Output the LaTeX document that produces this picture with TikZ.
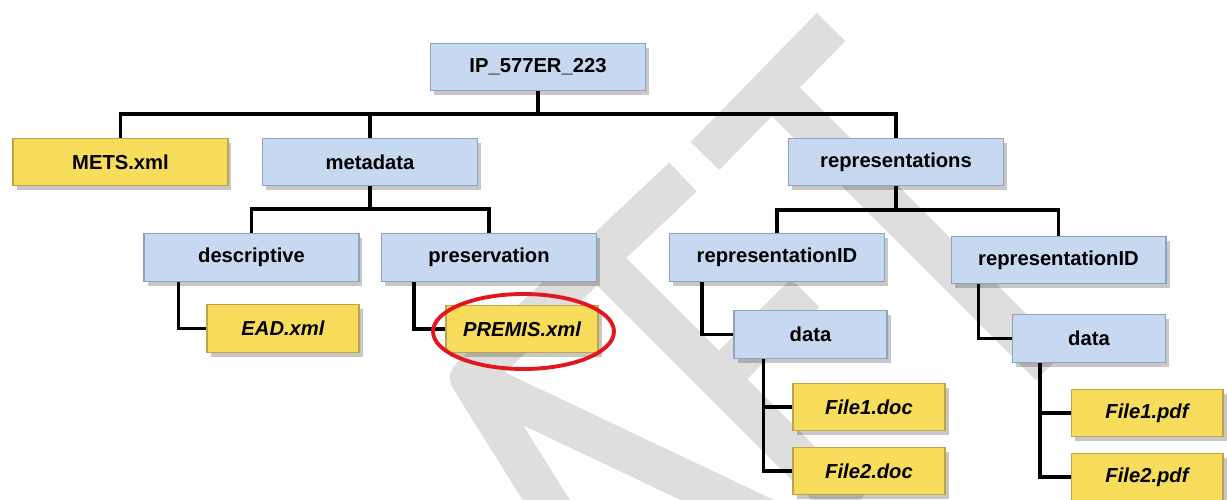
\documentclass[tikz,border=0pt]{standalone}
\usepackage{fontspec}
\setmainfont{Liberation Sans}
\usepackage{tikz}
\usepackage{xcolor}
\usetikzlibrary{shadows, positioning}

\definecolor{folderblue}{HTML}{C6D9F1}
\definecolor{folderline}{HTML}{8FA2BF}
\definecolor{fileyellow}{HTML}{F8DC5B}
\definecolor{fileline}{HTML}{BFA548}
\definecolor{markgray}{HTML}{DEDEDE}
\definecolor{ringred}{HTML}{E3161D}

\begin{document}
\begin{tikzpicture}[x=0.02cm, y=-0.02cm,
    box/.style={draw, line width=0.6pt, minimum height=0.95cm, inner sep=0pt,
        font=\fontsize{11.5}{13}\selectfont\bfseries,
        drop shadow={shadow xshift=2pt, shadow yshift=-2.5pt, fill=black, opacity=0.22}},
    folder/.style={box, fill=folderblue, draw=folderline, minimum width=4.3cm},
    file/.style={box, fill=fileyellow, draw=fileline, minimum width=3.04cm},
    link/.style={line width=1.8pt}]

    \fill[white] (0,0) rectangle (1227,500);
    \useasboundingbox (0,0) rectangle (1227,500);

    % watermark
    \begin{scope}[markgray, line width=0.8cm, line join=round]
        \draw (683,177) -- (470,378) -- (565,530);
        \draw (470,378) -- (780,525);
        \draw (597,257) -- (850,510);
        \draw (720,378) -- (805,293);
        \draw (705,156) -- (831,27);
        \draw (772,88) -- (1050,366);
    \end{scope}

    \node[folder] (ip) at (538,67) {IP\_577ER\_223};

    \node[file] (mets) at (120.5,162) [minimum width=4.3cm] {METS.xml};
    \node[folder] (meta) at (370,162) {metadata};
    \node[folder] (reps) at (896,162) {representations};

    \node[folder] (desc) at (251.5,257.5) {descriptive};
    \node[folder] (pres) at (489,257.5) {preservation};
    \node[folder] (repa) at (777,257.5) {representationID};
    \node[folder] (repb) at (1058.5,260) {representationID};

    \node[file] (ead) at (283,328.5) {\itshape EAD.xml};
    \node[file] (premis) at (522,329) {\itshape PREMIS.xml};
    \node[folder] (dataa) at (810.5,334.5) [minimum width=3.06cm] {data};
    \node[folder] (datab) at (1089,338.5) [minimum width=3.06cm] {data};

    \node[file] (doca) at (869,407) {\itshape File1.doc};
    \node[file] (docb) at (869,471) {\itshape File2.doc};
    \node[file] (pdfa) at (1147,413) {\itshape File1.pdf};
    \node[file] (pdfb) at (1147,477) {\itshape File2.pdf};

    \coordinate (top) at (538,114);
    \coordinate (mid) at (370,209);
    \coordinate (rep) at (896,210);
    \coordinate (trunka) at ([xshift=0.6cm]dataa.south west);
    \coordinate (trunkb) at ([xshift=0.56cm]datab.south west);

    \draw[link] (ip.south) -- (top);
    \draw[link] (mets.north) |- (top) -| (reps.north);
    \draw[link] (meta.north) -- (meta.north |- top);

    \draw[link] (meta.south) -- (mid);
    \draw[link] (desc.north) |- (mid) -| (pres.north);
    \draw[link] (reps.south) -- (rep);
    \draw[link] (repa.north) |- (rep) -| (repb.north);

    \draw[link] ([xshift=0.7cm]desc.south west) |- (ead.west);
    \draw[link] ([xshift=0.66cm]pres.south west) |- (premis.west);
    \draw[link] ([xshift=0.66cm]repa.south west) |- (dataa.west);
    \draw[link] ([xshift=0.56cm]repb.south west) |- (datab.west);

    \draw[link] (trunka) |- (docb.west);
    \draw[link] (doca.west) -- (doca.west -| trunka);
    \draw[link] (trunkb) |- (pdfb.west);
    \draw[link] (pdfa.west) -- (pdfa.west -| trunkb);

    \draw[ringred, line width=2.2pt] (premis.center) ++(1.5,2.5) ellipse [x radius=1.81cm, y radius=0.75cm];
\end{tikzpicture}
\end{document}
